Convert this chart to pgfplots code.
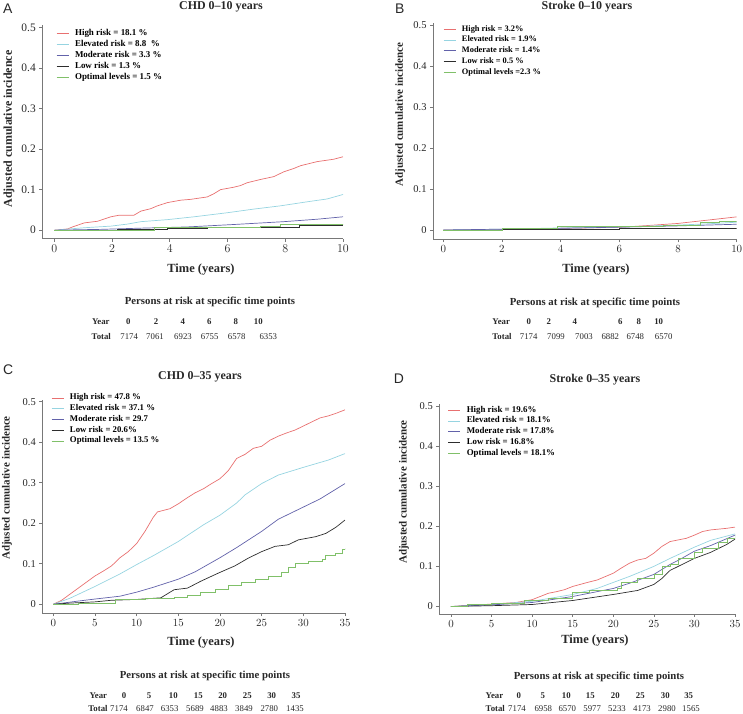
\documentclass[border=0pt]{standalone}
\usepackage{fontspec}
\setmainfont{Liberation Serif}
\newfontfamily\arial{Liberation Sans}
\usepackage{pgfplots}
\pgfplotsset{compat=1.18}

\definecolor{cHigh}{RGB}{232,112,112}
\definecolor{cElev}{RGB}{150,212,225}
\definecolor{cMod}{RGB}{98,98,170}
\definecolor{cLow}{RGB}{45,45,45}
\definecolor{cOpt}{RGB}{128,192,105}
\definecolor{axgray}{RGB}{120,120,120}
\definecolor{txt}{RGB}{40,40,40}

\newcommand\fs[1]{\fontsize{#1}{#1}\selectfont}

\pgfplotsset{
  km/.style={
    scale only axis, axis lines=left, anchor=south west,
    axis line style={-, draw=axgray, line width=0.6bp},
    tick align=outside, major tick length=3bp,
    tick style={draw=axgray, line width=0.6bp},
    ytick={0,0.1,0.2,0.3,0.4,0.5},
    yticklabels={0,0.1,0.2,0.3,0.4,0.5},
    every axis plot/.append style={line width=0.7bp, mark=none},
    legend cell align=left,
    legend image code/.code={\draw[##1] (0bp,0bp) -- (12bp,0bp);},
    legend style={draw=none, fill=none, anchor=north west, inner sep=0pt,
      row sep=2bp, nodes={inner sep=0pt, text height=6.5bp, text depth=2.5bp},
      /tikz/every odd column/.append style={column sep=6bp}},
  },
}

\begin{document}
\begin{tikzpicture}
\useasboundingbox (0,0) rectangle (743bp,714bp);

% ---------------- A: CHD 0-10 years
\begin{axis}[km, at={(42.3bp,475.3bp)}, width=300.7bp, height=213.3bp,
  xmin=-0.416, xmax=10, ymin=-0.021, ymax=0.505, xtick={0,2,4,6,8,10},
  tick label style={font=\fs{11.5}, text=txt},
  legend style={at={(0.046,0.985)}, font=\bfseries\fontsize{9}{11}\selectfont}]
\addplot[cHigh] coordinates {(0,0) (0.46,0.003) (0.63,0.008) (1.04,0.018) (1.5,0.022)
  (1.96,0.033) (2.25,0.037) (2.76,0.037) (3.0,0.047) (3.34,0.053) (3.57,0.060) (3.92,0.068)
  (4.38,0.074) (4.72,0.076) (5.3,0.082) (5.53,0.090) (5.76,0.100) (6.22,0.106) (6.45,0.110)
  (6.68,0.117) (7.14,0.125) (7.6,0.132) (7.95,0.144) (8.29,0.152) (8.53,0.159) (9.1,0.169)
  (9.68,0.175) (10,0.181)};
\addlegendentry{High risk = 18.1 \%}
\addplot[cElev] coordinates {(0,0) (1.04,0.006) (1.96,0.010) (2.53,0.015) (3.0,0.021)
  (3.92,0.026) (4.84,0.033) (5.99,0.043) (6.91,0.052) (7.83,0.060) (8.76,0.070) (9.45,0.077)
  (10,0.088)};
\addlegendentry{Elevated risk = 8.8~~\%}
\addplot[cMod] coordinates {(0,0) (1.61,0.002) (3.0,0.005) (4.61,0.008) (6.22,0.014)
  (7.95,0.021) (9.1,0.027) (10,0.033)};
\addlegendentry{Moderate risk = 3.3 \%}
\addplot[cLow, const plot] coordinates {(0,0) (2.2,0.002) (3.9,0.004) (5.3,0.007)
  (7.1,0.008) (8.5,0.011) (9.6,0.012) (10,0.012)};
\addlegendentry{Low risk = 1.3 \%}
\addplot[cOpt, const plot] coordinates {(0,0) (3.46,0.006) (5.3,0.0075) (7.14,0.010)
  (7.83,0.015) (10,0.016)};
\addlegendentry{Optimal levels = 1.5 \%}
\end{axis}

% ---------------- B: Stroke 0-10 years
\begin{axis}[km, at={(433bp,474.7bp)}, width=303.7bp, height=216.3bp,
  xmin=-0.35, xmax=10, ymin=-0.0227, ymax=0.5049, xtick={0,2,4,6,8,10},
  tick label style={font=\fs{10.5}, text=txt},
  legend style={at={(0.033,0.993)}, font=\bfseries\fontsize{8.4}{10.75}\selectfont,
    row sep=1.75bp}]
\addplot[cHigh] coordinates {(0,0) (2,0.001) (4,0.004) (6,0.0065) (7,0.011) (8,0.016)
  (9,0.024) (10,0.032)};
\addlegendentry{High risk = 3.2\%}
\addplot[cElev] coordinates {(0,0) (2,0.002) (4,0.005) (6,0.007) (8,0.012) (9,0.015)
  (10,0.019)};
\addlegendentry{Elevated risk = 1.9\%}
\addplot[cMod] coordinates {(0,0) (2,0.002) (4,0.004) (6,0.007) (8,0.010) (10,0.014)};
\addlegendentry{Moderate risk = 1.4\%}
\addplot[cLow, const plot] coordinates {(0,0) (2,0.001) (4,0.002) (6,0.003) (7.5,0.004)
  (8.75,0.005) (10,0.005)};
\addlegendentry{Low risk = 0.5 \%}
\addplot[cOpt, const plot] coordinates {(0,0) (2.0,0.003) (3.9,0.008) (6,0.008)
  (7.5,0.012) (8.75,0.018) (9.4,0.022) (10,0.023)};
\addlegendentry{Optimal levels =2.3 \%}
\end{axis}

% ---------------- C: CHD 0-35 years
\begin{axis}[km, at={(42.3bp,100.7bp)}, width=302.7bp, height=213.6bp,
  xmin=-1.32, xmax=35, ymin=-0.0222, ymax=0.505, xtick={0,5,10,15,20,25,30,35},
  tick label style={font=\fs{10.5}, text=txt},
  legend style={at={(0.029,1.03)}, font=\bfseries\fontsize{8.8}{10.75}\selectfont,
    row sep=1.75bp}]
\addplot[cHigh] coordinates {(0,0) (1,0.01) (2,0.025) (3,0.04) (4,0.055) (5,0.07)
  (6,0.082) (7,0.095) (8,0.115) (9,0.13) (10,0.15) (11,0.18) (12,0.215) (12.5,0.228)
  (14,0.236) (15,0.248) (16,0.262) (17,0.275) (18,0.285) (19,0.298) (20,0.31) (21,0.33)
  (22,0.36) (23,0.37) (24,0.385) (25,0.39) (26,0.405) (27,0.415) (28,0.423) (29,0.43)
  (30,0.44) (31,0.45) (32,0.46) (33,0.465) (34,0.472) (35,0.48)};
\addlegendentry{High risk = 47.8 \%}
\addplot[cElev] coordinates {(0,0) (2,0.015) (5,0.044) (8,0.075) (10,0.098) (12,0.12)
  (15,0.155) (18,0.196) (20,0.22) (22,0.25) (23,0.27) (25,0.298) (27,0.319) (30,0.338)
  (33,0.356) (35,0.372)};
\addlegendentry{Elevated risk = 37.1 \%}
\addplot[cMod] coordinates {(0,0) (3,0.008) (5,0.013) (8,0.02) (10,0.03) (12,0.042)
  (15,0.062) (17,0.08) (20,0.115) (22,0.14) (25,0.18) (27,0.21) (30,0.24) (32,0.26)
  (35,0.298)};
\addlegendentry{Moderate risk = 29.7}
\addplot[cLow] coordinates {(0,0) (2,0.003) (5,0.006) (7,0.01) (10,0.012) (12.9,0.016)
  (14.5,0.036) (16.1,0.04) (17.7,0.057) (19.8,0.077) (21.8,0.095) (23.4,0.114) (25,0.13)
  (26.6,0.143) (28.2,0.147) (29.4,0.159) (31.5,0.167) (32.7,0.175) (33.9,0.19) (35,0.208)};
\addlegendentry{Low risk = 20.6\%}
\addplot[cOpt, const plot] coordinates {(0,0) (3,0.003) (7.4,0.011) (11,0.014)
  (14.5,0.016) (16.1,0.022) (17.7,0.03) (19.4,0.038) (21,0.048) (22.6,0.055) (24.2,0.062)
  (25.8,0.07) (27.4,0.08) (28.2,0.092) (29,0.1) (30.6,0.105) (32.3,0.112) (32.7,0.122)
  (33.9,0.126) (34.7,0.135) (35,0.14)};
\addlegendentry{Optimal levels = 13.5 \%}
\end{axis}

% ---------------- D: Stroke 0-35 years
\begin{axis}[km, at={(439.3bp,100bp)}, width=295.7bp, height=210bp,
  xmin=-1.44, xmax=35, ymin=-0.0187, ymax=0.505, xtick={0,5,10,15,20,25,30,35},
  tick label style={font=\fs{10.5}, text=txt},
  legend style={at={(0.029,0.993)}, font=\bfseries\fontsize{8.9}{10.75}\selectfont,
    row sep=1.75bp}]
\addplot[cHigh] coordinates {(0,0) (5,0.006) (8,0.01) (10,0.017) (11,0.025) (12,0.033)
  (13,0.037) (14,0.042) (15,0.05) (17,0.061) (18,0.066) (20,0.083) (21,0.096) (22,0.108)
  (23,0.116) (24,0.12) (25,0.133) (26,0.15) (27,0.162) (28,0.166) (29,0.17) (30,0.178)
  (31,0.187) (32,0.191) (33,0.193) (34,0.195) (35,0.198)};
\addlegendentry{High risk = 19.6\%}
\addplot[cElev] coordinates {(0,0) (5,0.005) (10,0.013) (15,0.03) (18,0.045) (20,0.06)
  (22,0.075) (25,0.1) (27,0.12) (30,0.148) (32,0.165) (35,0.181)};
\addlegendentry{Elevated risk = 18.1\%}
\addplot[cMod] coordinates {(0,0) (5,0.004) (10,0.01) (15,0.025) (20,0.045) (22,0.058)
  (25,0.08) (27,0.105) (28,0.115) (30,0.138) (32,0.152) (35,0.178)};
\addlegendentry{Moderate risk = 17.8\%}
\addplot[cLow] coordinates {(0,0) (5,0.002) (10,0.005) (15,0.015) (20,0.03) (23,0.04)
  (25,0.055) (26,0.07) (27,0.09) (28,0.1) (30,0.12) (32,0.135) (34,0.155) (35,0.168)};
\addlegendentry{Low risk = 16.8\%}
\addplot[cOpt, const plot] coordinates {(0,0) (2,0.005) (5,0.008) (9,0.015) (12,0.02)
  (15,0.035) (17,0.04) (20.5,0.045) (21,0.06) (23,0.07) (25,0.08) (26,0.1) (27,0.105)
  (28,0.12) (30,0.135) (31,0.145) (33,0.16) (34,0.17) (35,0.181)};
\addlegendentry{Optimal levels = 18.1\%}
\end{axis}

% ---------------- titles, labels and the risk tables (pixel frame, y down)
\begin{scope}[x=1bp, y=-1bp, shift={(0bp,714bp)}, every node/.style={text=txt, inner sep=0pt}]
  \node[anchor=base west, font=\arial\fs{14}] at (3,14) {A};
  \node[anchor=base west, font=\arial\fs{14}] at (395,13.3) {B};
  \node[anchor=base west, font=\arial\fs{14}] at (3,375) {C};
  \node[anchor=base west, font=\arial\fs{14}] at (393.7,383.3) {D};

  \node[anchor=base, font=\bfseries\fs{12}] at (221,10) {CHD 0--10 years};
  \node[anchor=base, font=\bfseries\fs{12}] at (587,10) {Stroke 0--10 years};
  \node[anchor=base, font=\bfseries\fs{12}] at (200,380) {CHD 0--35 years};
  \node[anchor=base, font=\bfseries\fs{12}] at (595,382.7) {Stroke 0--35 years};

  \node[rotate=90, font=\bfseries\fs{12}] at (9,129) {Adjusted cumulative incidence};
  \node[rotate=90, font=\bfseries\fs{11}] at (400.3,114.5) {Adjusted cumulative incidence};
  \node[rotate=90, font=\bfseries\fs{11}] at (7,488) {Adjusted cumulative incidence};
  \node[rotate=90, font=\bfseries\fs{11}] at (404,492) {Adjusted cumulative incidence};

  \node[anchor=base, font=\bfseries\fs{12.5}] at (201,272.5) {Time (years)};
  \node[anchor=base, font=\bfseries\fs{12.5}] at (596,272.7) {Time (years)};
  \node[anchor=base, font=\bfseries\fs{12.5}] at (201,646) {Time (years)};
  \node[anchor=base, font=\bfseries\fs{12.5}] at (595,644) {Time (years)};

  \node[anchor=base, font=\bfseries\fs{10.8}] at (210,305) {Persons at risk at specific time points};
  \node[anchor=base, font=\bfseries\fs{10.8}] at (595,306) {Persons at risk at specific time points};
  \node[anchor=base, font=\bfseries\fs{10.8}] at (205,678.3) {Persons at risk at specific time points};
  \node[anchor=base, font=\bfseries\fs{10.8}] at (599,679.3) {Persons at risk at specific time points};

  % A table
  \foreach \x/\t in {100.8/Year, 128.3/0, 156/2, 182.7/4, 209.3/6, 235.7/8, 258.3/10}
    \node[anchor=base, font=\bfseries\fs{8.8}] at (\x,325) {\t};
  \node[anchor=base, font=\bfseries\fs{8.8}] at (101.3,340) {Total};
  \foreach \x/\t in {129.2/7174, 155/7061, 183/6923, 209.7/6755, 236.7/6578, 268.3/6353}
    \node[anchor=base, font=\fs{8.8}] at (\x,340) {\t};
  % B table
  \foreach \x/\t in {501.2/Year, 528.7/0, 548.7/2, 574.7/4, 620.3/6, 638.7/8, 658.7/10}
    \node[anchor=base, font=\bfseries\fs{8.8}] at (\x,325) {\t};
  \node[anchor=base, font=\bfseries\fs{8.8}] at (502,340) {Total};
  \foreach \x/\t in {528.7/7174, 556/7099, 584/7003, 610.3/6882, 635.3/6748, 663.7/6570}
    \node[anchor=base, font=\fs{8.8}] at (\x,340) {\t};
  % C table
  \foreach \x/\t in {98.3/Year, 124/0, 149/5, 173.3/10, 198.3/15, 222.7/20, 247.3/25, 271.7/30, 296/35}
    \node[anchor=base, font=\bfseries\fs{8.8}] at (\x,699) {\t};
  \node[anchor=base, font=\bfseries\fs{8.8}] at (98,712) {Total};
  \foreach \x/\t in {119/7174, 145/6847, 169.7/6353, 195/5689, 219/4883, 244/3849, 269.3/2780, 295/1435}
    \node[anchor=base, font=\fs{8.8}] at (\x,712) {\t};
  % D table
  \foreach \x/\t in {494.5/Year, 518.7/0, 542.7/5, 566.3/10, 590.3/15, 615.3/20, 640.3/25, 665.3/30, 688.7/35}
    \node[anchor=base, font=\bfseries\fs{8.8}] at (\x,699) {\t};
  \node[anchor=base, font=\bfseries\fs{8.8}] at (495.3,712) {Total};
  \foreach \x/\t in {517/7174, 543.3/6958, 567.3/6570, 592.2/5977, 617/5233, 642/4173, 667/2980, 691/1565}
    \node[anchor=base, font=\fs{8.8}] at (\x,712) {\t};
\end{scope}
\end{tikzpicture}
\end{document}
